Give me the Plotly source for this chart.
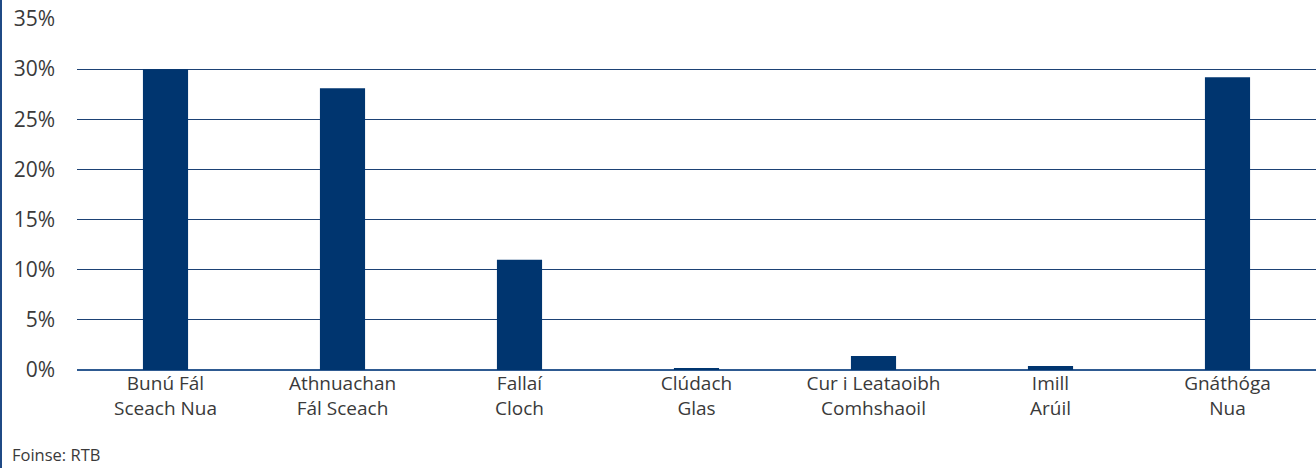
import plotly.graph_objects as go

categories = [
    "Bunú Fál<br>Sceach Nua",
    "Athnuachan<br>Fál Sceach",
    "Fallaí<br>Cloch",
    "Clúdach<br>Glas",
    "Cur i Leataoibh<br>Comhshaoil",
    "Imill<br>Arúil",
    "Gnáthóga<br>Nua",
]
values = [30.0, 28.1, 11.0, 0.2, 1.4, 0.4, 29.2]
tick_vals = [0, 5, 10, 15, 20, 25, 30, 35]
tick_text = ["0%", "5%", "10%", "15%", "20%", "25%", "30%", "35%"]
source_note = "Foinse: RTB"

W, H = 1316, 468
ML, MR, MT, MB = 77, 0, 19, 98
plot_w = W - ML - MR
plot_h = H - MT - MB

navy = "#00356f"
grid = "#1d4275"
text_col = "#3a3a3a"
font_family = "Open Sans, Noto Sans, DejaVu Sans, sans-serif"

fig = go.Figure(
    go.Bar(
        x=categories,
        y=values,
        marker=dict(color=navy, line=dict(width=0)),
        width=0.255,
        hoverinfo="x+y",
    )
)

fig.update_layout(
    width=W,
    height=H,
    margin=dict(l=ML, r=MR, t=MT, b=MB),
    paper_bgcolor="white",
    plot_bgcolor="white",
    showlegend=False,
    font=dict(family=font_family, size=19, color=text_col),
    xaxis=dict(
        showgrid=False,
        showline=False,
        ticks="",
        tickfont=dict(size=19, color=text_col),
        range=[-0.5, 6.5],
    ),
    yaxis=dict(
        range=[0, 35],
        tickvals=tick_vals,
        ticktext=tick_text,
        showgrid=True,
        gridcolor=grid,
        gridwidth=1.4,
        zeroline=True,
        zerolinecolor="#2e5a91",
        zerolinewidth=1.6,
        showline=False,
        ticks="",
        ticklabelstandoff=21,
        tickfont=dict(size=21, color=text_col),
        fixedrange=True,
    ),
    annotations=[
        dict(
            text=source_note,
            xref="paper",
            yref="paper",
            x=(10 - ML) / plot_w,
            y=-(455 - MT - plot_h) / plot_h,
            xanchor="left",
            yanchor="middle",
            showarrow=False,
            font=dict(size=16.5, color=text_col, family=font_family),
        )
    ],
    shapes=[
        dict(
            type="line",
            xref="paper",
            yref="paper",
            x0=(1 - ML) / plot_w,
            x1=(1 - ML) / plot_w,
            y0=-MB / plot_h,
            y1=(plot_h + MT) / plot_h,
            line=dict(color="#1f4a85", width=2),
        )
    ],
)

fig.write_html("out.html")
